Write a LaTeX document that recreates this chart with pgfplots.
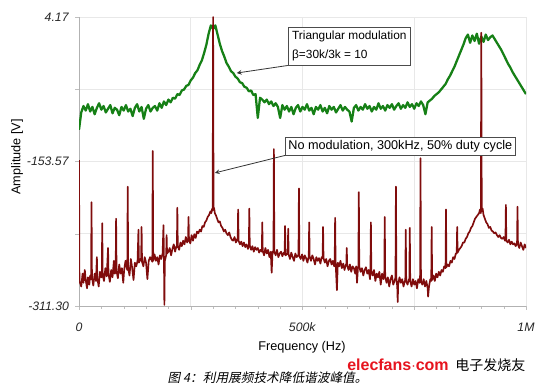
\documentclass[border=0pt]{standalone}
\usepackage{pgfplots}
\pgfplotsset{compat=1.18}
\usepackage{pgfplotstable}
\usepackage{fontspec}
\setmainfont{Liberation Sans}
\newfontfamily\cjk[FakeSlant=0.2]{Noto Sans CJK SC}
\newfontfamily\cjkw{Noto Sans CJK SC}
\definecolor{grn}{RGB}{22,128,22}
\definecolor{drd}{RGB}{128,12,12}
\definecolor{wm}{RGB}{230,20,30}

\pgfplotstableread{
f v
0 -119
5 -100
10 -93
15 -98
20 -91
25 -99
30 -94
35 -102
40 -95
45 -90
50 -97
55 -93
60 -100
65 -96
70 -92
75 -101
80 -95
85 -97
90 -103
95 -94
100 -98
105 -92
110 -99
115 -96
120 -104
125 -95
130 -91
135 -99
140 -94
145 -107
150 -96
155 -92
160 -99
165 -95
170 -93
175 -98
180 -90
185 -95
190 -88
195 -92
200 -86
205 -89
210 -84
215 -85
220 -80
225 -81
230 -76
235 -75
240 -71
245 -70
250 -65
255 -62
260 -57
265 -54
270 -48
275 -43
280 -35
285 -26
290 -14
295 -5
300 -9
305 -5
310 -15
315 -25
320 -33
325 -39
330 -46
335 -50
340 -55
345 -57
350 -61
355 -63
360 -67
365 -68
370 -72
375 -73
380 -77
385 -76
390 -81
395 -80
400 -106
405 -84
410 -86
415 -89
420 -86
425 -91
430 -88
435 -93
440 -90
445 -94
450 -106
455 -92
460 -97
465 -93
470 -99
475 -94
480 -102
485 -95
490 -92
495 -99
500 -94
505 -97
510 -91
515 -98
520 -95
525 -102
530 -94
535 -97
540 -92
545 -99
550 -95
555 -101
560 -93
565 -97
570 -94
575 -100
580 -96
585 -92
590 -98
595 -94
600 -97
605 -99
610 -110
615 -95
620 -92
625 -98
630 -94
635 -97
640 -91
645 -96
650 -93
655 -99
660 -94
665 -97
670 -90
675 -96
680 -93
685 -98
690 -92
695 -95
700 -91
705 -97
710 -93
715 -90
720 -96
725 -92
730 -95
735 -89
740 -94
745 -91
750 -96
755 -90
760 -93
765 -88
770 -92
775 -102
780 -89
785 -87
790 -85
795 -82
800 -80
805 -78
810 -75
815 -72
820 -69
825 -64
830 -60
835 -55
840 -50
845 -44
850 -38
855 -32
860 -26
865 -19
870 -15
875 -24
880 -16
885 -22
890 -14
895 -25
900 -17
905 -23
910 -15
915 -21
920 -18
925 -16
930 -20
935 -24
940 -28
945 -32
950 -37
955 -42
960 -47
965 -51
970 -56
975 -60
980 -64
985 -68
990 -72
995 -76
1000 -80
}\greendata

\pgfplotstableread{
f v
0 -152
1 -284
5 -290
8 -276
10 -286
13 -272
15 -283
18 -292
20 -280
23 -288
25 -278
27 -282
28 -198
29 -280
32 -289
35 -276
38 -284
40 -258
41 -281
44 -290
47 -274
50 -280
51 -279
52 -221
53 -278
56 -284
59 -270
62 -279
65 -248
66 -276
69 -285
72 -272
75 -280
78 -262
80 -276
82 -274
83 -216
84 -273
87 -281
90 -266
93 -276
96 -270
99 -286
101 -272
104 -262
107 -270
108 -272
109 -181
110 -270
113 -278
116 -260
119 -270
122 -283
125 -264
128 -268
131 -262
133 -228
134 -264
137 -260
139 -262
140 -225
141 -263
144 -268
147 -258
150 -264
153 -282
156 -262
159 -258
162 -261
164 -263
165 -142
166 -262
169 -255
172 -262
175 -258
178 -266
181 -256
184 -260
187 -254
189 -223
190 -258
191 -310
192 -262
195 -256
196 -234
197 -254
200 -252
203 -248
206 -256
209 -249
212 -244
215 -252
218 -246
219 -247
220 -204
221 -246
224 -250
227 -242
230 -246
233 -240
236 -244
239 -236
242 -242
244 -240
245 -214
246 -238
249 -243
252 -234
255 -240
258 -233
261 -237
264 -230
267 -232
270 -228
273 -230
276 -224
279 -225
282 -220
285 -218
288 -214
291 -212
294 -208
296 -210
298 -205
299 -207
300 4.17
301 -206
302 -204
304 -210
306 -212
309 -216
312 -220
315 -219
318 -224
321 -226
324 -230
327 -228
330 -232
333 -234
336 -231
339 -236
342 -239
345 -240
348 -236
351 -242
354 -238
355 -240
356 -206
357 -240
360 -244
363 -241
366 -246
369 -242
372 -247
375 -244
378 -249
380 -245
381 -205
382 -245
385 -250
388 -246
391 -252
394 -247
397 -250
400 -248
403 -253
406 -250
409 -252
410 -220
411 -251
414 -256
417 -248
420 -254
423 -250
426 -258
429 -252
431 -275
433 -252
435 -253
436 -140
437 -252
440 -256
443 -250
446 -258
449 -254
452 -252
455 -257
458 -253
460 -255
461 -224
462 -256
467 -254
468 -227
469 -255
472 -260
475 -253
478 -258
481 -262
484 -254
487 -258
490 -256
491 -256
492 -183
493 -257
496 -260
499 -255
502 -262
505 -256
508 -259
511 -264
514 -257
515 -220
516 -257
519 -262
522 -256
525 -260
528 -266
531 -258
534 -262
537 -259
540 -265
543 -258
545 -259
546 -225
547 -259
550 -264
553 -260
556 -268
559 -262
562 -260
565 -266
568 -262
571 -268
572 -262
573 -215
574 -263
577 -294
579 -264
582 -268
585 -262
588 -270
591 -265
594 -272
597 -266
598 -266
599 -248
600 -267
603 -272
606 -266
609 -274
612 -268
615 -270
618 -276
620 -268
622 -286
624 -270
625 -268
626 -187
627 -268
630 -274
633 -270
636 -278
639 -272
642 -269
645 -276
648 -272
651 -282
652 -272
653 -220
654 -273
657 -278
660 -272
663 -284
666 -276
669 -280
672 -274
675 -288
678 -276
681 -282
683 -278
684 -214
685 -279
688 -286
691 -280
694 -290
697 -282
700 -278
703 -288
706 -284
708 -280
709 -181
710 -281
712 -290
713 -307
714 -288
717 -280
720 -286
723 -282
726 -290
729 -284
730 -283
731 -228
732 -284
735 -288
738 -282
739 -284
740 -226
741 -284
744 -290
747 -282
750 -288
753 -284
756 -292
759 -282
762 -286
763 -284
764 -150
765 -284
768 -288
771 -282
774 -290
777 -284
780 -292
781 -301
783 -290
786 -282
788 -284
789 -225
790 -283
793 -278
796 -284
799 -276
802 -280
805 -274
808 -278
811 -272
814 -274
817 -268
820 -270
821 -206
822 -269
825 -266
828 -268
831 -262
834 -264
837 -258
840 -260
843 -254
845 -254
846 -225
847 -253
850 -250
853 -248
856 -246
859 -242
862 -242
865 -238
868 -236
871 -232
874 -230
877 -226
880 -224
883 -220
886 -216
889 -214
892 -212
895 -210
897 -206
899 -210
900 -13
901 -208
903 -205
905 -212
908 -216
911 -220
914 -222
917 -226
920 -225
923 -229
926 -230
929 -232
932 -231
935 -234
938 -236
941 -234
944 -237
947 -238
950 -236
953 -240
954 -239
955 -201
956 -240
959 -242
962 -239
965 -244
968 -241
971 -244
974 -243
977 -246
980 -242
981 -203
982 -244
985 -248
988 -242
991 -246
994 -250
997 -244
1000 -248
}\reddata

\begin{document}
\begin{tikzpicture}[x=0.75pt,y=0.75pt]
\useasboundingbox (0,0) rectangle (550,388);
\begin{axis}[
  at={(59.25pt,61.5pt)}, anchor=south west,
  scale only axis,
  width=335.25pt, height=216.75pt,
  xmin=0, xmax=1000, ymin=-311.30, ymax=4.17,
  axis lines*=left,
  axis line style={draw=gray!60},
  xtick={0,250,500,750,1000},
  xticklabels={\textit{0},,\textit{500k},,\textit{1M}},
  minor xtick={50,100,150,200,300,350,400,450,550,600,650,700,800,850,900,950},
  ytick={-311.30,-232.435,-153.57,-74.7,4.17},
  yticklabels={\textit{-311.30},,\textit{-153.57},,\textit{4.17}},
  grid=major,
  major grid style={draw=gray!18, line width=0.5pt},
  tick align=outside,
  major tick length=3pt,
  minor tick length=2pt,
  tick style={draw=gray!50},
  ticklabel style={font=\fontsize{9.2}{10}\selectfont, text=black!85},
  xticklabel style={yshift=-6pt},
  yticklabel style={xshift=-1pt},
  clip=true,
]
\addplot[grn, line width=1.7pt, line join=round] table[x=f, y=v] {\greendata};
\addplot[drd, line width=1.25pt, line join=round] table[x=f, y=v] {\reddata};

\node[draw=black!70, fill=white, anchor=north west, inner sep=3pt, align=left,
  font=\fontsize{8.9}{14}\selectfont, line width=0.6pt] (b1) at (axis cs:467,-6.7)
  {Triangular modulation\\β=30k/3k = 10};
\draw[black!80, line width=0.6pt, -stealth] (b1.south west) -- (axis cs:353,-57);
\node[draw=black!70, fill=white, anchor=north west, inner sep=2.2pt, align=left,
  font=\fontsize{9.5}{10}\selectfont, line width=0.6pt] (b2) at (axis cs:461,-126.8)
  {No modulation, 300kHz, 50\% duty cycle};
\draw[black!80, line width=0.6pt, -stealth] (b2.south west) -- (axis cs:304,-166);
\end{axis}
\node[rotate=90, font=\fontsize{9.5}{10}\selectfont] at (17,231) {Amplitude [V]};
\node[font=\fontsize{9.5}{10}\selectfont] at (302,41) {Frequency (Hz)};
\node[font=\fontsize{9.5}{10}\selectfont\cjk, anchor=west] at (163,10) {图 4：利用展频技术降低谐波峰值。};
\node[font=\fontsize{12}{13}\selectfont\bfseries, text=wm, anchor=west, inner sep=0pt] at (347,23) {elecfans$\cdot$com};
\node[font=\fontsize{10.5}{12}\selectfont\cjkw, anchor=west, inner sep=0pt] at (455,23) {电子发烧友};
\end{tikzpicture}
\end{document}
